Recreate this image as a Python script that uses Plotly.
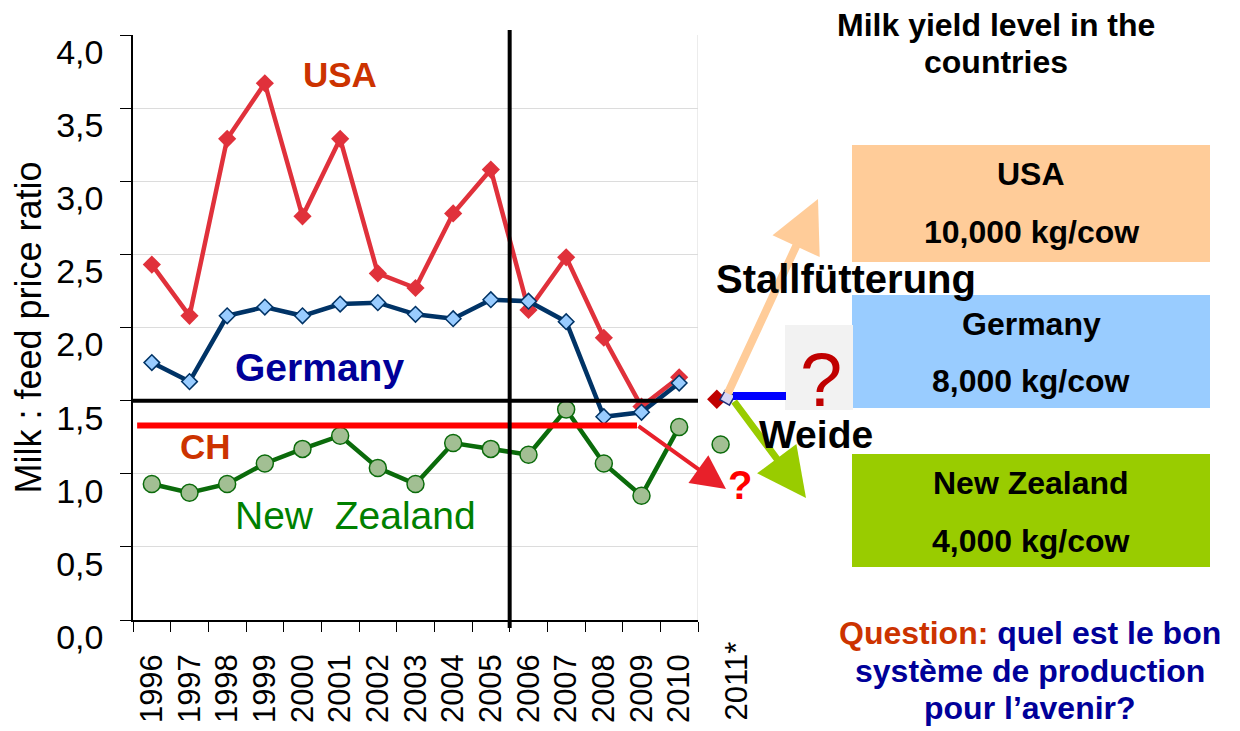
import plotly.graph_objects as go

# ---------------- data ----------------
years = ["1996", "1997", "1998", "1999", "2000", "2001", "2002", "2003",
         "2004", "2005", "2006", "2007", "2008", "2009", "2010"]
usa = [2.43, 2.08, 3.29, 3.67, 2.76, 3.29, 2.37, 2.27, 2.78, 3.08, 2.12, 2.48, 1.93, 1.46, 1.66]
germany = [1.76, 1.63, 2.08, 2.14, 2.08, 2.16, 2.17, 2.09, 2.06, 2.19, 2.18, 2.04, 1.39, 1.42, 1.62]
new_zealand = [0.93, 0.87, 0.93, 1.07, 1.17, 1.26, 1.04, 0.93, 1.21, 1.17, 1.13, 1.44, 1.07, 0.85, 1.32]

label_2011 = "2011*"
usa_2011 = [1.51]
germany_2011 = [1.52]
nz_2011 = [1.20]

reference_level = 1.5      # black horizontal line
ch_level = 1.33            # CH red line
yticks = [0, 0.5, 1, 1.5, 2, 2.5, 3, 3.5, 4]

idx = list(range(len(years)))
x2011 = len(years)

FONT = "Arial, Liberation Sans, sans-serif"

# page-pixel frame (page has an 8px body margin)
OFF = 8
PL, PR_AX, PR_PAPER, PT, PB = 133, 698, 760, 35, 620
W, H = 1240, 731
UNIT = (PR_AX - PL) / len(years)

def px(x):
    return (x - PL) / (PR_PAPER - PL)
def py(y):
    return (PB - y) / (PB - PT)

fig = go.Figure()

fig.add_trace(go.Scatter(x=idx, y=usa, mode="lines+markers", name="USA",
                         line=dict(color="#E0313B", width=4.5),
                         marker=dict(symbol="diamond", size=14, color="#E0313B")))
fig.add_trace(go.Scatter(x=idx, y=germany, mode="lines+markers", name="Germany",
                         line=dict(color="#003366", width=4.5),
                         marker=dict(symbol="diamond", size=12, color="#99CCFF",
                                     line=dict(color="#003366", width=1.5))))
fig.add_trace(go.Scatter(x=idx, y=new_zealand, mode="lines+markers", name="New Zealand",
                         line=dict(color="#0B6B0B", width=4.5),
                         marker=dict(symbol="circle", size=17, color="#A2BF93",
                                     line=dict(color="#0B6B0B", width=1.5))))

# 2011 estimates on a side axis continuing the same scale
fig.add_trace(go.Scatter(x=[x2011 + 0.1], y=nz_2011, mode="markers", xaxis="x2", yaxis="y2",
                         marker=dict(symbol="circle", size=17, color="#A2BF93",
                                     line=dict(color="#0B6B0B", width=1.5))))
fig.add_trace(go.Scatter(x=[x2011], y=usa_2011, mode="markers", xaxis="x2", yaxis="y2",
                         marker=dict(symbol="diamond", size=15, color="#C00000")))
fig.add_trace(go.Scatter(x=[x2011 + 0.28], y=germany_2011, mode="markers", xaxis="x2", yaxis="y2",
                         marker=dict(symbol="square", size=11, color="#D6D6F5", angle=30,
                                     line=dict(color="#1F2F7A", width=1.5))))

# ---------------- shapes ----------------
shapes = []
shapes.append(dict(type="line", xref="x", yref="paper", x0=14.5, x1=14.5, y0=0, y1=1,
                   line=dict(color="#D9D9D9", width=1), layer="below"))
shapes.append(dict(type="line", xref="x", yref="y", x0=-0.39, x1=12.88, y0=ch_level, y1=ch_level,
                   line=dict(color="#FF0000", width=6)))
shapes.append(dict(type="line", xref="x", yref="y", x0=-0.5, x1=14.5,
                   y0=reference_level, y1=reference_level,
                   line=dict(color="black", width=4)))
shapes.append(dict(type="line", xref="x", yref="paper", x0=9.5, x1=9.5, y0=py(628), y1=py(30),
                   line=dict(color="black", width=4)))
boxes = [(852, 1210, 145, 262, "#FFCC99"),
         (852, 1210, 295, 408, "#99CCFF"),
         (852, 1210, 454, 567, "#99CC00"),
         (785, 853, 325, 410, "#F2F2F2")]
for x0, x1, y0, y1, c in boxes:
    shapes.append(dict(type="rect", xref="paper", yref="paper",
                       x0=px(x0), x1=px(x1), y0=py(y1), y1=py(y0),
                       fillcolor=c, line=dict(width=0), layer="below"))
shapes.append(dict(type="line", xref="paper", yref="paper", x0=px(733), x1=px(786),
                   y0=py(396), y1=py(396), line=dict(color="#0000FF", width=8)))

# ---------------- annotations ----------------
ann = []
def text(xp, yp, t, size, color="black", bold=False, xanchor="center", yanchor="middle", angle=0):
    ann.append(dict(xref="paper", yref="paper", x=px(xp), y=py(yp), text=("<b>%s</b>" % t) if bold else t,
                    showarrow=False, font=dict(family=FONT, size=size, color=color),
                    xanchor=xanchor, yanchor=yanchor, textangle=angle))

def arrow(tail, tip, color, width, size):
    ann.append(dict(xref="paper", yref="paper", x=px(tip[0]), y=py(tip[1]),
                    ax=tail[0] - tip[0], ay=tail[1] - tip[1], axref="pixel", ayref="pixel",
                    text="", showarrow=True, arrowhead=2, arrowwidth=width, arrowsize=size,
                    arrowcolor=color, standoff=0, startstandoff=0))

arrow((727, 395), (818, 199), "#FFCC99", 8, 1.3)
arrow((733, 400), (806, 498), "#99CC00", 7, 1.4)
arrow((637, 425), (726, 489), "#E8202A", 4, 1.7)

text(340, 74, "USA", 35, "#CC3300", True)
text(319, 367, "Germany", 39, "#000099", True)
text(205, 447, "CH", 35, "#CC3300", True)
text(355, 515, "New&nbsp;&nbsp;Zealand", 39, "#008000")
text(740, 485, "?", 40, "#FF0000", True)
text(821, 379, "?", 76, "#C00000")
text(846, 279, "Stallfütterung", 40, "black", True)
text(816, 434, "Weide", 39, "black", True)

text(996, 25, "Milk yield level in the", 32, "black", True)
text(996, 62, "countries", 32, "black", True)

text(1031, 174, "USA", 32, "black", True)
text(1031, 232, "10,000 kg/cow", 32, "black", True)
text(1031, 324, "Germany", 32, "black", True)
text(1031, 381, "8,000 kg/cow", 32, "black", True)
text(1031, 483, "New Zealand", 32, "black", True)
text(1031, 541, "4,000 kg/cow", 32, "black", True)

text(1030, 633, "<span style='color:#CC3300'>Question:</span> quel est le bon", 32, "#000099", True)
text(1030, 671, "système de production", 32, "#000099", True)
text(1030, 708, "pour l’avenir?", 32, "#000099", True)

text(736, 723, label_2011, 31, "black", False, "center", "bottom", -90)

fig.update_layout(shapes=shapes, annotations=ann)

ax_frac = (PR_AX - PL) / (PR_PAPER - PL)
fig.update_layout(
    width=W, height=H,
    margin=dict(l=PL - OFF, r=W - (PR_PAPER - OFF), t=PT - OFF, b=H - (PB - OFF), autoexpand=False),
    paper_bgcolor="white", plot_bgcolor="white",
    showlegend=False,
    separators=",.",
    font=dict(family=FONT, color="black"),
    xaxis=dict(domain=[0, ax_frac], range=[-0.5, 14.5], tickmode="array", tickvals=idx, ticktext=years,
               tickangle=-90, ticks="", showgrid=False, zeroline=False, automargin=False,
               showline=True, linecolor="black", linewidth=1.5,
               tickfont=dict(family=FONT, size=31, color="black"), ticklabelstandoff=20,
               minor=dict(tickmode="array", tickvals=[i - 0.5 for i in range(len(years) + 1)],
                          ticks="outside", ticklen=10, tickcolor="black", tickwidth=1.2,
                          showgrid=False)),
    yaxis=dict(domain=[0, 1], range=[0, 4], tickmode="array", tickvals=yticks, tickformat=".1f",
               ticks="outside", ticklen=11, tickcolor="black", tickwidth=1.2, automargin=False,
               showline=True, linecolor="black", linewidth=1.5,
               showgrid=True, gridcolor="#DCDCDC", gridwidth=1, zeroline=False,
               tickfont=dict(family=FONT, size=34, color="black"),
               ticklabelstandoff=10, ticklabelshift=17, ticklabeloverflow="allow",
               title=dict(text="Milk : feed price ratio",
                          font=dict(family=FONT, size=36, color="black"), standoff=24)),
    xaxis2=dict(domain=[ax_frac, 1], anchor="y2",
                range=[14.5, 14.5 + (PR_PAPER - PR_AX) / UNIT], visible=False),
    yaxis2=dict(domain=[0, 1], anchor="x2", range=[0, 4], visible=False),
)

fig.write_html("out.html")
